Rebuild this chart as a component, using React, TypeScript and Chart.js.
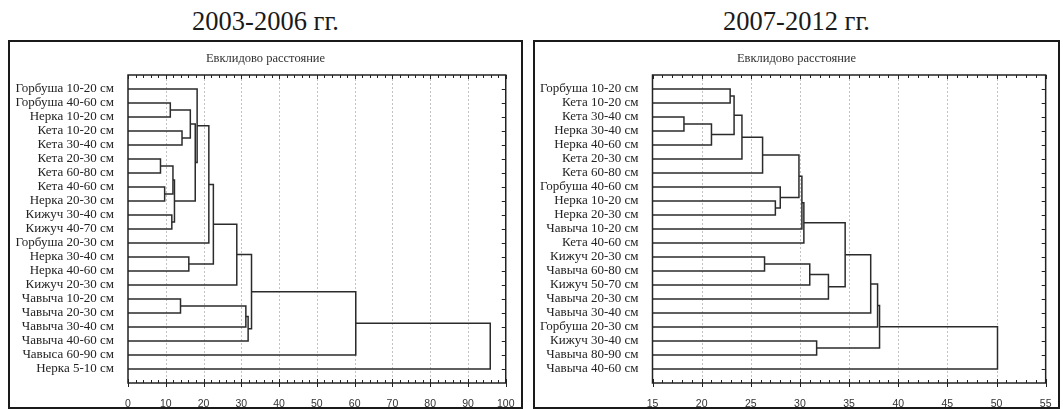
import React, { useEffect, useRef } from "react";
import { Chart, registerables } from "chart.js";

Chart.register(...registerables);

// ---------- data: 2003-2006 ----------
const leftTitle = "2003-2006 гг.";
const leftLabels = [
  "Горбуша 10-20 см",
  "Горбуша 40-60 см",
  "Нерка 10-20 см",
  "Кета 10-20 см",
  "Кета 30-40 см",
  "Кета 20-30 см",
  "Кета 60-80 см",
  "Кета 40-60 см",
  "Нерка 20-30 см",
  "Кижуч 30-40 см",
  "Кижуч 40-70 см",
  "Горбуша 20-30 см",
  "Нерка 30-40 см",
  "Нерка 40-60 см",
  "Кижуч 20-30 см",
  "Чавыча 10-20 см",
  "Чавыча 20-30 см",
  "Чавыча 30-40 см",
  "Чавыча 40-60 см",
  "Чавыса 60-90 см",
  "Нерка 5-10 см",
];
// children: positive = leaf number (1-based), negative = earlier merge number
const leftMergeA = [2, 4, -1, 6, 8, -4, 10, -6, -3, 1, -10, 13, -11, -13, 16, -15, -16, -14, -18, -19];
const leftMergeB = [3, 5, -2, 7, 9, -5, 11, -7, -8, -9, 12, 14, -12, 15, 17, 18, 19, -17, 20, 21];
const leftHeights = [11.2, 14.3, 16.5, 8.6, 9.7, 11.9, 11.6, 12.3, 17.8, 18.3, 21.4, 16.1, 22.6, 28.8, 13.9, 31.2, 31.8, 32.7, 60.3, 95.9];
const leftAxis = [0, 100]; // min, max
const leftSteps = [10, 2]; // major, minor

// ---------- data: 2007-2012 ----------
const rightTitle = "2007-2012 гг.";
const rightLabels = [
  "Горбуша 10-20 см",
  "Кета 10-20 см",
  "Кета 30-40 см",
  "Нерка 30-40 см",
  "Нерка 40-60 см",
  "Кета 20-30 см",
  "Кета 60-80 см",
  "Горбуша 40-60 см",
  "Нерка 10-20 см",
  "Нерка 20-30 см",
  "Чавыча 10-20 см",
  "Кета 40-60 см",
  "Кижуч 20-30 см",
  "Чавыча 60-80 см",
  "Кижуч 50-70 см",
  "Чавыча 20-30 см",
  "Чавыча 30-40 см",
  "Горбуша 20-30 см",
  "Кижуч 30-40 см",
  "Чавыча 80-90 см",
  "Чавыча 40-60 см",
];
const rightMergeA = [1, 3, -2, -1, -4, -5, 9, 8, -6, -9, -10, 13, -12, -13, -11, -15, -16, 19, -17, -19];
const rightMergeB = [2, 4, 5, -3, 6, 7, 10, -7, -8, 11, 12, 14, 15, 16, -14, 17, 18, 20, -18, 21];
const rightHeights = [22.9, 18.2, 21.0, 23.3, 24.1, 26.2, 27.5, 28.0, 29.9, 30.2, 30.4, 26.4, 31.0, 32.9, 34.6, 37.2, 37.9, 31.7, 38.1, 50.1];
const rightAxis = [15, 55];
const rightSteps = [5, 1];

const subTitle = "Евклидово расстояние";

type Pt = { x: number; y: number };

function buildSegments(A: number[], B: number[], H: number[], base: number): Pt[][] {
  const pos: Pt[] = [];
  const get = (c: number): Pt => (c > 0 ? { x: base, y: c } : pos[-c - 1]);
  const segs: Pt[][] = [];
  for (let i = 0; i < H.length; i++) {
    const a = get(A[i]);
    const b = get(B[i]);
    const h = H[i];
    segs.push([
      { x: a.x, y: a.y },
      { x: h, y: a.y },
      { x: h, y: b.y },
      { x: b.x, y: b.y },
    ]);
    pos.push({ x: h, y: (a.y + b.y) / 2 });
  }
  return segs;
}

function makeFramePlugin(major: number, minor: number, nRows: number) {
  return {
    id: "dendroFrame",
    beforeDatasetsDraw(chart: any) {
      const { ctx, chartArea: ca, scales } = chart;
      const xs = scales.x;
      ctx.save();
      ctx.strokeStyle = "#c2c2c2";
      ctx.lineWidth = 1;
      ctx.setLineDash([2, 2]);
      for (let v = xs.min + major; v < xs.max - 1e-9; v += major) {
        const px = Math.round(xs.getPixelForValue(v)) + 0.5;
        ctx.beginPath();
        ctx.moveTo(px, ca.top);
        ctx.lineTo(px, ca.bottom);
        ctx.stroke();
      }
      ctx.restore();
    },
    afterDraw(chart: any) {
      const { ctx, chartArea: ca, scales } = chart;
      const xs = scales.x;
      const ys = scales.y;
      ctx.save();
      ctx.strokeStyle = "#222";
      ctx.lineWidth = 1.5;
      ctx.strokeRect(ca.left, ca.top, ca.right - ca.left, ca.bottom - ca.top);
      ctx.lineWidth = 1;
      const n = Math.round((xs.max - xs.min) / minor);
      for (let i = 0; i <= n; i++) {
        const v = xs.min + i * minor;
        const isMajor = Math.abs((v - xs.min) / major - Math.round((v - xs.min) / major)) < 1e-6;
        const px = Math.round(xs.getPixelForValue(v)) + 0.5;
        ctx.beginPath();
        ctx.moveTo(px, ca.top);
        ctx.lineTo(px, ca.top + (isMajor ? 4 : 3));
        if (isMajor) {
          ctx.moveTo(px, ca.bottom - 4);
          ctx.lineTo(px, ca.bottom + 4);
        } else {
          ctx.moveTo(px, ca.bottom - 3);
          ctx.lineTo(px, ca.bottom);
        }
        ctx.stroke();
      }
      for (let r = 1; r <= nRows; r++) {
        const py = Math.round(ys.getPixelForValue(r)) + 0.5;
        ctx.beginPath();
        ctx.moveTo(ca.right - 4, py);
        ctx.lineTo(ca.right, py);
        ctx.stroke();
      }
      ctx.restore();
    },
  };
}

type PanelProps = {
  title: string;
  labels: string[];
  mergeA: number[];
  mergeB: number[];
  heights: number[];
  axis: number[];
  steps: number[];
  frameLeft: number;
  frameWidth: number;
  plotLeft: number; // page coords
  plotRight: number; // page coords
};

const FRAME_TOP = 40;
const FRAME_H = 369;
const BORDER = 2;
const PLOT_TOP = 75;
const PLOT_BOTTOM = 383;

function Panel(p: PanelProps) {
  const ref = useRef<HTMLCanvasElement | null>(null);
  const canvasLeft = p.frameLeft + BORDER;
  const canvasTop = FRAME_TOP + BORDER;
  const cw = p.frameWidth - 2 * BORDER;
  const ch = FRAME_H - 2 * BORDER;
  const chartLeft = p.plotLeft - canvasLeft;
  const rightW = canvasLeft + cw - p.plotRight;
  const xAxisH = canvasTop + ch - PLOT_BOTTOM;
  const titleH = PLOT_TOP - canvasTop;

  useEffect(() => {
    if (!ref.current) return;
    const segs = buildSegments(p.mergeA, p.mergeB, p.heights, p.axis[0]);
    const titleFont = 12.5;
    const titleLine = titleFont * 1.2;
    const titleCenter = 59 - canvasTop;
    const padTop = titleCenter - titleLine / 2;
    const padBottom = titleH - padTop - titleLine;
    const chart = new Chart(ref.current, {
      type: "scatter",
      data: {
        datasets: segs.map((s) => ({
          data: s,
          showLine: true,
          borderColor: "#2b2b2b",
          borderWidth: 1.5,
          pointRadius: 0,
          fill: false,
          tension: 0,
        })),
      },
      plugins: [makeFramePlugin(p.steps[0], p.steps[1], p.labels.length)],
      options: {
        responsive: false,
        animation: false,
        events: [],
        layout: { padding: 0 },
        plugins: {
          legend: { display: false },
          tooltip: { enabled: false },
          title: {
            display: true,
            text: subTitle,
            color: "#333",
            font: { family: '"Liberation Serif", "Times New Roman", serif', size: titleFont, weight: "normal", lineHeight: 1.2 },
            padding: { top: padTop, bottom: padBottom },
          },
        },
        scales: {
          x: {
            type: "linear",
            position: "bottom",
            min: p.axis[0],
            max: p.axis[1],
            afterFit: (s: any) => {
              s.height = xAxisH;
            },
            ticks: {
              stepSize: p.steps[0],
              autoSkip: false,
              maxRotation: 0,
              padding: 6.5,
              color: "#333",
              font: { family: '"Liberation Sans", Arial, sans-serif', size: 10.5 },
            },
            grid: { display: false },
            border: { display: false },
          },
          y: {
            type: "linear",
            position: "left",
            reverse: true,
            min: 0,
            max: p.labels.length + 1,
            afterFit: (s: any) => {
              s.width = chartLeft;
            },
            ticks: {
              stepSize: 1,
              autoSkip: false,
              padding: 6,
              color: "#222",
              font: { family: '"Liberation Serif", "Times New Roman", serif', size: 13 },
              callback: (v: any) => p.labels[Number(v) - 1] ?? "",
            },
            grid: { display: false },
            border: { display: false },
          },
          yR: {
            type: "linear",
            position: "right",
            display: true,
            afterFit: (s: any) => {
              s.width = rightW;
            },
            ticks: { display: false },
            grid: { display: false },
            border: { display: false },
          },
        },
      } as any,
    });
    return () => chart.destroy();
  }, []);

  return (
    <>
      <div
        style={{
          position: "absolute",
          left: p.frameLeft,
          top: 2.5,
          width: p.frameWidth,
          textAlign: "center",
          fontFamily: '"Liberation Serif", "Times New Roman", serif',
          fontSize: 26.5,
          lineHeight: "36px",
          color: "#1a1a1a",
          whiteSpace: "nowrap",
        }}
      >
        {p.title}
      </div>
      <div
        style={{
          position: "absolute",
          left: p.frameLeft,
          top: FRAME_TOP,
          width: p.frameWidth,
          height: FRAME_H,
          border: `${BORDER}px solid #1a1a1a`,
          boxSizing: "border-box",
        }}
      />
      <canvas
        ref={ref}
        width={cw}
        height={ch}
        style={{ position: "absolute", left: canvasLeft, top: canvasTop, width: cw, height: ch }}
      />
    </>
  );
}

export default function App() {
  return (
    <div
      style={{
        position: "absolute",
        left: 0,
        top: 0,
        width: 1063,
        height: 409,
        overflow: "hidden",
        background: "#fff",
      }}
    >
      <Panel
        title={leftTitle}
        labels={leftLabels}
        mergeA={leftMergeA}
        mergeB={leftMergeB}
        heights={leftHeights}
        axis={leftAxis}
        steps={leftSteps}
        frameLeft={8}
        frameWidth={515}
        plotLeft={128}
        plotRight={508}
      />
      <Panel
        title={rightTitle}
        labels={rightLabels}
        mergeA={rightMergeA}
        mergeB={rightMergeB}
        heights={rightHeights}
        axis={rightAxis}
        steps={rightSteps}
        frameLeft={533}
        frameWidth={527}
        plotLeft={652.5}
        plotRight={1047.7}
      />
    </div>
  );
}
